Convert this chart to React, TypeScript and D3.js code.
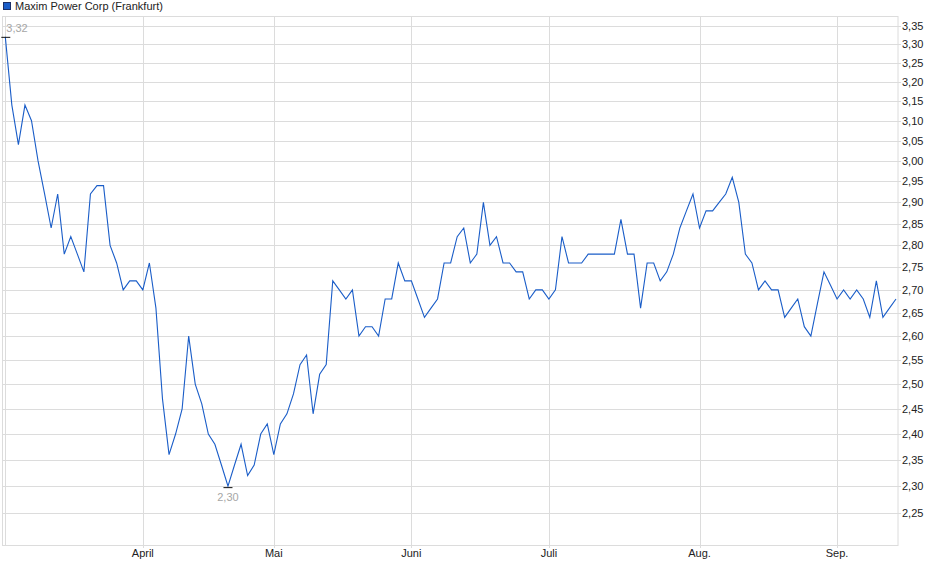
import React from "react";
import * as d3 from "d3";

// daily closing prices (Frankfurt)
const prices = [
  3.32, 3.14, 3.04, 3.14, 3.1, 3.0, 2.92, 2.84, 2.92, 2.78,
  2.82, 2.78, 2.74, 2.92, 2.94, 2.94, 2.8, 2.76, 2.7, 2.72,
  2.72, 2.7, 2.76, 2.66, 2.47, 2.36, 2.4, 2.45, 2.6, 2.5,
  2.46, 2.4, 2.38, 2.34, 2.3, 2.34, 2.38, 2.32, 2.34, 2.4,
  2.42, 2.36, 2.42, 2.44, 2.48, 2.54, 2.56, 2.44, 2.52, 2.54,
  2.72, 2.7, 2.68, 2.7, 2.6, 2.62, 2.62, 2.6, 2.68, 2.68,
  2.76, 2.72, 2.72, 2.68, 2.64, 2.66, 2.68, 2.76, 2.76, 2.82,
  2.84, 2.76, 2.78, 2.9, 2.8, 2.82, 2.76, 2.76, 2.74, 2.74,
  2.68, 2.7, 2.7, 2.68, 2.7, 2.82, 2.76, 2.76, 2.76, 2.78,
  2.78, 2.78, 2.78, 2.78, 2.86, 2.78, 2.78, 2.66, 2.76, 2.76,
  2.72, 2.74, 2.78, 2.84, 2.88, 2.92, 2.84, 2.88, 2.88, 2.9,
  2.92, 2.96, 2.9, 2.78, 2.76, 2.7, 2.72, 2.7, 2.7, 2.64,
  2.66, 2.68, 2.62, 2.6, 2.67, 2.74, 2.71, 2.68, 2.7, 2.68,
  2.7, 2.68, 2.64, 2.72, 2.64, 2.66, 2.68,
];

// index of the first trading day of each month
const monthIdx = [21, 41, 62, 83, 106, 127];
const monthLabels = ["April", "Mai", "Juni", "Juli", "Aug.", "Sep."];

const yTicks = [
  2.25, 2.3, 2.35, 2.4, 2.45, 2.5, 2.55, 2.6, 2.65, 2.7, 2.75, 2.8,
  2.85, 2.9, 2.95, 3.0, 3.05, 3.1, 3.15, 3.2, 3.25, 3.3, 3.35,
];

const title = "Maxim Power Corp (Frankfurt)";

const W = 940;
const H = 579;
const plot = { left: 2.5, right: 898, top: 16, bottom: 545 };

const fmt = (v: number) => v.toFixed(2).replace(".", ",");

const App = () => {
  const x = d3
    .scaleLinear()
    .domain([0, prices.length - 1])
    .range([5.3, 896]);

  const y = d3.scaleLog().domain([2.192, 3.377]).range([plot.bottom, plot.top]);

  const line = d3
    .line<number>()
    .x((_, i) => x(i))
    .y((d) => y(d));

  const hiIdx = d3.maxIndex(prices);
  const loIdx = d3.minIndex(prices);
  const hi = prices[hiIdx];
  const lo = prices[loIdx];

  const grid = "#dcdcdc";
  const font = "'Liberation Sans', Arial, sans-serif";

  return (
    <div style={{ position: "absolute", left: 0, top: 0 }}>
      <svg width={W} height={H} style={{ display: "block", background: "#fff" }}>
        {/* title / legend */}
        <rect x={3.5} y={2.5} width={7} height={7} fill="#1a5dc8" stroke="#1c2f66" strokeWidth={1} />
        <text x={15} y={10} fontFamily={font} fontSize={11} fill="#222">
          {title}
        </text>

        {/* horizontal grid + right axis labels */}
        {yTicks.map((t) => (
          <g key={t}>
            <line
              x1={plot.left}
              x2={plot.right + 3}
              y1={Math.round(y(t)) + 0.5}
              y2={Math.round(y(t)) + 0.5}
              stroke={grid}
            />
            <text
              x={902}
              y={y(t) + 4}
              fontFamily={font}
              fontSize={11}
              fill="#222"
            >
              {fmt(t)}
            </text>
          </g>
        ))}

        {/* vertical grid at month starts */}
        <line x1={5.5} x2={5.5} y1={plot.top} y2={plot.bottom} stroke={grid} />
        {monthIdx.map((m, i) => (
          <g key={monthLabels[i]}>
            <line
              x1={Math.round(x(m)) + 0.5}
              x2={Math.round(x(m)) + 0.5}
              y1={plot.top}
              y2={plot.bottom + 3}
              stroke={grid}
            />
            <text
              x={x(m)}
              y={557}
              textAnchor="middle"
              fontFamily={font}
              fontSize={11}
              fill="#222"
            >
              {monthLabels[i]}
            </text>
          </g>
        ))}

        {/* plot frame */}
        <rect
          x={plot.left}
          y={plot.top + 0.5}
          width={plot.right - plot.left}
          height={plot.bottom - plot.top}
          fill="none"
          stroke={grid}
        />

        {/* price line */}
        <path d={line(prices) || ""} fill="none" stroke="#1a5dc8" strokeWidth={1.1} />

        {/* high marker */}
        <line x1={x(hiIdx) - 4} x2={x(hiIdx) + 5} y1={y(hi) + 0.5} y2={y(hi) + 0.5} stroke="#111" />
        <text x={x(hiIdx) + 1} y={y(hi) - 5} fontFamily={font} fontSize={11} fill="#a6a6a6">
          {fmt(hi)}
        </text>

        {/* low marker */}
        <line x1={x(loIdx) - 4.5} x2={x(loIdx) + 4.5} y1={y(lo) + 1.5} y2={y(lo) + 1.5} stroke="#111" />
        <text
          x={x(loIdx)}
          y={y(lo) + 15}
          textAnchor="middle"
          fontFamily={font}
          fontSize={11}
          fill="#a6a6a6"
        >
          {fmt(lo)}
        </text>
      </svg>
    </div>
  );
};

export default App;
